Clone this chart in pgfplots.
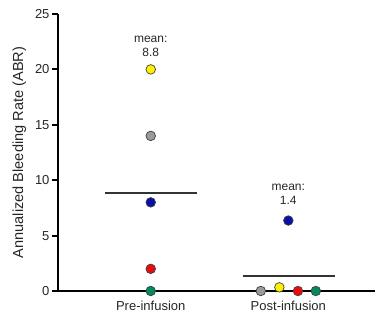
\documentclass[border=0pt]{standalone}
\usepackage{pgfplots}
\pgfplotsset{compat=1.18}
\usepackage{fontspec}
\setmainfont{Liberation Sans}
\definecolor{cyel}{HTML}{FFF200}
\definecolor{cgry}{HTML}{9A9A9A}
\definecolor{cblu}{HTML}{0A0FA8}
\definecolor{cred}{HTML}{E80C0C}
\definecolor{cgrn}{HTML}{008A5E}
\begin{document}
\begin{tikzpicture}
\useasboundingbox (-58pt,-33pt) rectangle (320pt,291pt);
\begin{axis}[
  at={(0,0)}, anchor=south west,
  scale only axis, width=317pt, height=277pt,
  xmin=0.326, xmax=2.63, ymin=0, ymax=25,
  axis lines=left,
  axis line style={-, line width=2.3pt, black},
  xtick={1,2}, xticklabels={Pre-infusion, Post-infusion},
  ytick={0,5,10,15,20,25},
  tick align=outside,
  x tick style={draw=none},
  y tick style={line width=1.9pt, black},
  major tick length=5.5pt,
  /pgf/number format/assume math mode=true,
  ticklabel style={font=\fontsize{13}{15}\selectfont, text=black!85},
  yticklabel style={xshift=0.5pt},
  xticklabel style={yshift=-1pt},
  ylabel={Annualized Bleeding Rate (ABR)},
  ylabel style={at={(axis description cs:-0.122,0.5)}, anchor=center, font=\fontsize{14.6}{16}\selectfont, text=black!85},
  clip=false,
  dot/.style={only marks, mark=*, mark size=4.8pt, mark options={draw=black!75, line width=0.7pt, fill=#1}},
]
\addplot[dot=cyel] coordinates {(1,20) (1.935,0.33)};
\addplot[dot=cgry] coordinates {(1,14) (1.80,0)};
\addplot[dot=cblu] coordinates {(1,8) (2,6.36)};
\addplot[dot=cred] coordinates {(1,2) (2.07,0)};
\addplot[dot=cgrn] coordinates {(1,0) (2.20,0)};
\addplot[mark=none, line width=2pt, black!80] coordinates {(0.667,8.8) (1.333,8.8)};
\addplot[mark=none, line width=2pt, black!80] coordinates {(1.67,1.32) (2.34,1.32)};
\node[align=center, font=\fontsize{12}{14}\selectfont, text=black!85] at (axis cs:1,22.05) {mean:\\8.8};
\node[align=center, font=\fontsize{12}{14}\selectfont, text=black!85] at (axis cs:2,8.75) {mean:\\1.4};
\end{axis}
\end{tikzpicture}
\end{document}
